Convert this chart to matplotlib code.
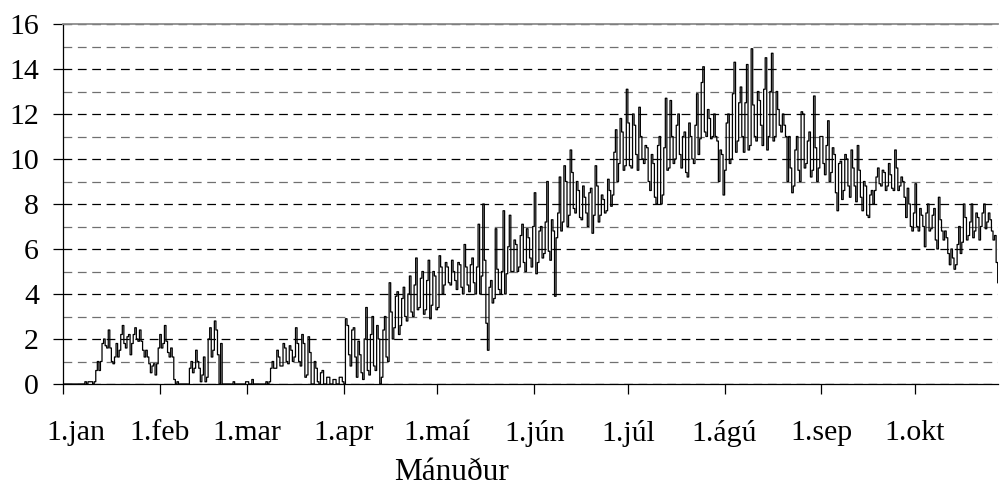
import numpy as np
import matplotlib.pyplot as plt
from matplotlib.ticker import MultipleLocator
from matplotlib.transforms import ScaledTranslation

# day of year (0 = 1 jan) where each month starts, and the axis labels
month_days = [0, 31, 59, 90, 120, 151, 181, 212, 243, 273]
month_labels = ['1.jan', '1.feb', '1.mar', '1.apr', '1.maí',
                '1.jún', '1.júl', '1.ágú', '1.sep', '1.okt']
x_title = 'Mánuður'

# daily low / high readings, one row per month (jan .. okt)
temp_low = [
    0, 0, 0, 0, 0, 0, 0, 0, 0.1, 0, 0.1, 0.6, 1.0, 1.7, 1.6, 1.0, 0.9, 1.2, 1.5, 1.8,
    1.6, 1.3, 1.8, 2.0, 1.9, 1.5, 1.2, 0.9, 0.5, 0.4, 0.9,
    1.6, 1.8, 1.4, 1.2, 0.2, 0, 0, 0, 0, 0, 0.5, 0.7, 0.7, 0.1, 0.1, 0.3, 1.2, 1.5, 1.3,
    0, 0, 0, 0, 0, 0, 0, 0, 0,
    0, 0, 0, 0, 0, 0, 0, 0.1, 0.7, 0.7, 0.8, 0.8, 1.0, 0.9, 1.0, 1.2, 1.0,
    0.8, 0.3, 0.4, 0, 0, 0.1, 0, 0, 0, 0, 0, 0, 0, 0.1,
    0.0, 1.3, 0.8, 1.2, 0.3, 0.5, 0.2, 0.6, 0.4, 0.8, 0.6, 0.0, 0.3, 1.2, 1.0, 2.0, 2.5, 2.2, 2.6, 3.0,
    2.8, 3.2, 3.0, 3.3, 3.4, 3.1, 3.3, 2.9, 3.5, 3.3,
    3.4, 4.0, 4.4, 4.5, 4.4, 4.6, 4.2, 4.3, 4.0, 4.4, 4.1, 4.5, 4.0, 4.0, 4.8, 2.7, 1.5, 3.6, 3.8, 4.2,
    4.0, 4.0, 4.9, 5.0, 5.0, 5.0, 5.2, 5.4, 5.0, 5.6, 5.2,
    4.9, 5.4, 5.6, 5.8, 5.9, 5.5, 3.9, 6.5, 6.8, 7.2, 7.0, 7.5, 7.8, 7.6, 7.4, 7.3, 7.6, 7.0, 6.7, 7.5,
    7.2, 7.5, 7.6, 7.7, 7.9, 8.4, 9.0, 9.8, 9.5, 9.7,
    9.7, 9.6, 10.2, 9.5, 10.0, 9.8, 9.0, 8.6, 8.3, 8.0, 8.0, 8.4, 9.5, 9.6, 9.8, 10.0, 10.2, 9.6, 9.4, 9.2,
    10.0, 9.8, 10.2, 10.9, 11.2, 11.0, 10.9, 11.0, 10.8, 9.0, 8.4,
    9.5, 9.8, 10.0, 10.3, 10.8, 11.0, 10.3, 10.4, 10.6, 11.0, 10.8, 11.5, 10.6, 10.4, 11.0, 10.8, 11.0, 11.5, 11.2, 11.0,
    9.0, 8.5, 8.8, 9.5, 9.0, 9.6, 9.8, 9.2, 9.5, 9.0, 9.6,
    9.8, 9.3, 9.0, 9.4, 8.5, 7.7, 8.2, 8.6, 8.8, 8.3, 8.8, 8.1, 8.3, 7.7, 7.5, 7.4, 8.0, 8.6, 8.9, 8.8,
    8.6, 8.8, 8.7, 8.6, 8.6, 8.8, 8.3, 7.4, 7.0, 6.8,
    7.0, 6.8, 7.0, 6.1, 6.8, 6.9, 6.4, 6.0, 6.8, 6.4, 5.8, 5.3, 5.1, 5.3, 5.8, 6.3, 6.4, 6.6, 6.5, 6.8,
    6.4, 7.0, 6.9, 7.2, 6.8, 6.4, 4.5,
]
temp_high = [
    0, 0, 0, 0, 0, 0, 0, 0.1, 0.1, 0.1, 0.6, 1.0, 1.8, 2.0, 2.4, 1.6, 1.2, 1.8, 2.2, 2.6,
    2.1, 2.2, 2.2, 2.5, 2.4, 1.9, 1.5, 1.2, 0.8, 0.9, 1.6,
    2.2, 2.6, 1.9, 1.6, 1.2, 0.1, 0, 0, 0, 0.7, 1.0, 1.5, 1.0, 0.4, 1.2, 2.0, 2.5, 2.8, 2.4,
    1.8, 0, 0, 0, 0.1, 0, 0, 0, 0.1,
    0.1, 0.2, 0, 0, 0, 0, 0.1, 0.7, 1.0, 1.5, 1.2, 1.8, 1.6, 1.7, 1.5, 2.5, 1.8,
    2.2, 1.8, 2.1, 1.4, 1.0, 0.7, 0.5, 0.6, 0.3, 0.3, 0.2, 0.2, 0.3, 0.3,
    2.9, 2.6, 2.4, 2.5, 1.9, 1.3, 2.0, 3.4, 2.2, 3.0, 2.6, 2.0, 2.4, 3.0, 4.5, 3.2, 3.9, 4.1, 3.8, 4.3,
    4.0, 4.8, 4.4, 5.6, 4.7, 5.0, 4.6, 5.5, 5.0, 4.8,
    5.7, 5.2, 5.4, 5.2, 5.5, 5.0, 5.4, 5.3, 6.2, 5.2, 5.3, 5.6, 5.2, 7.1, 8.0, 5.5, 4.3, 4.6, 6.9, 5.1,
    5.0, 7.7, 6.1, 7.5, 6.4, 6.2, 6.6, 7.1, 6.9, 6.5, 7.0,
    8.5, 6.8, 7.0, 7.2, 9.0, 7.3, 6.8, 7.6, 9.2, 9.7, 9.0, 10.4, 9.4, 9.0, 8.6, 8.8, 8.3, 8.5, 8.7, 9.7,
    8.8, 8.4, 8.2, 9.1, 8.6, 10.3, 11.3, 11.8, 11.2, 13.1,
    11.6, 12.0, 11.5, 12.3, 11.0, 10.6, 10.5, 10.2, 9.8, 10.6, 11.0, 10.5, 12.7, 12.6, 11.0, 11.5, 12.0, 11.0, 11.2, 11.6,
    11.0, 11.5, 12.9, 13.4, 14.1, 12.2, 11.8, 12.0, 11.0, 10.4, 10.2,
    11.6, 12.0, 12.9, 14.3, 12.5, 13.2, 12.5, 14.2, 14.9, 12.4, 13.0, 12.6, 13.1, 14.5, 13.0, 14.7, 13.0, 12.2, 12.0, 11.5,
    11.0, 9.6, 10.4, 11.0, 12.1, 12.0, 10.8, 11.2, 12.8, 10.5, 11.0,
    11.0, 10.6, 11.7, 10.5, 10.2, 9.8, 9.9, 10.2, 10.0, 10.4, 9.6, 10.6, 9.5, 9.0, 8.8, 8.4, 8.6, 9.2, 9.6, 9.5,
    9.4, 9.8, 9.3, 10.4, 9.6, 9.2, 9.0, 8.7, 8.0, 7.6,
    8.9, 7.8, 7.5, 7.6, 8.0, 7.5, 7.8, 8.3, 7.3, 6.8, 6.5, 6.0, 5.6, 6.2, 7.0, 8.0, 7.4, 7.2, 8.0, 7.6,
    7.4, 7.6, 8.0, 7.6, 7.3, 6.6, 5.4,
]

# two readings a day, alternating order so each day gives one long stroke
xs, ys = [], []
for d, (lo, hi) in enumerate(zip(temp_low, temp_high)):
    first, second = (lo, hi) if d % 2 == 0 else (hi, lo)
    xs += [d, d + 0.5]
    ys += [first, second]

plt.rcParams['font.family'] = ['Liberation Serif', 'DejaVu Serif']
fs = 21.5

fig = plt.figure(figsize=(10, 4.88), dpi=100)
ax = fig.add_axes([0.063, 1 - 384 / 488, 0.935, 360 / 488])

ax.plot(xs, ys, color='black', lw=0.9, drawstyle='steps-post', zorder=3)

ax.set_xlim(0, 299.6)
ax.set_ylim(0, 16)

ax.yaxis.set_major_locator(MultipleLocator(2))
ax.yaxis.set_minor_locator(MultipleLocator(1))
ax.grid(True, axis='y', which='major', color='black', lw=0.9, ls=(0, (7, 4.5)))
ax.grid(True, axis='y', which='minor', color='#707070', lw=0.9, ls=(0, (7, 4.5)))
ax.set_axisbelow(True)

ax.set_xticks(month_days, month_labels)
ax.tick_params(axis='both', which='major', direction='out', length=7.2,
               width=0.9, color='black', labelsize=fs)
ax.tick_params(axis='y', which='major', pad=10)
ax.tick_params(axis='x', which='major', pad=19)
ax.tick_params(axis='y', which='minor', length=0)

# first label sits a bit right of its tick in the original
first = ax.get_xticklabels()[0]
first.set_transform(first.get_transform() + ScaledTranslation(0.13, 0, fig.dpi_scale_trans))

ax.spines['right'].set_visible(False)
ax.spines['top'].set_color('#8c8c8c')
ax.spines['top'].set_linewidth(1.3)
ax.spines['left'].set_linewidth(0.9)
ax.spines['bottom'].set_linewidth(0.9)

fig.text(0.452, 8 / 488, x_title, ha='center', va='baseline', fontsize=fs + 1)

fig.savefig('out.png', dpi=100)
